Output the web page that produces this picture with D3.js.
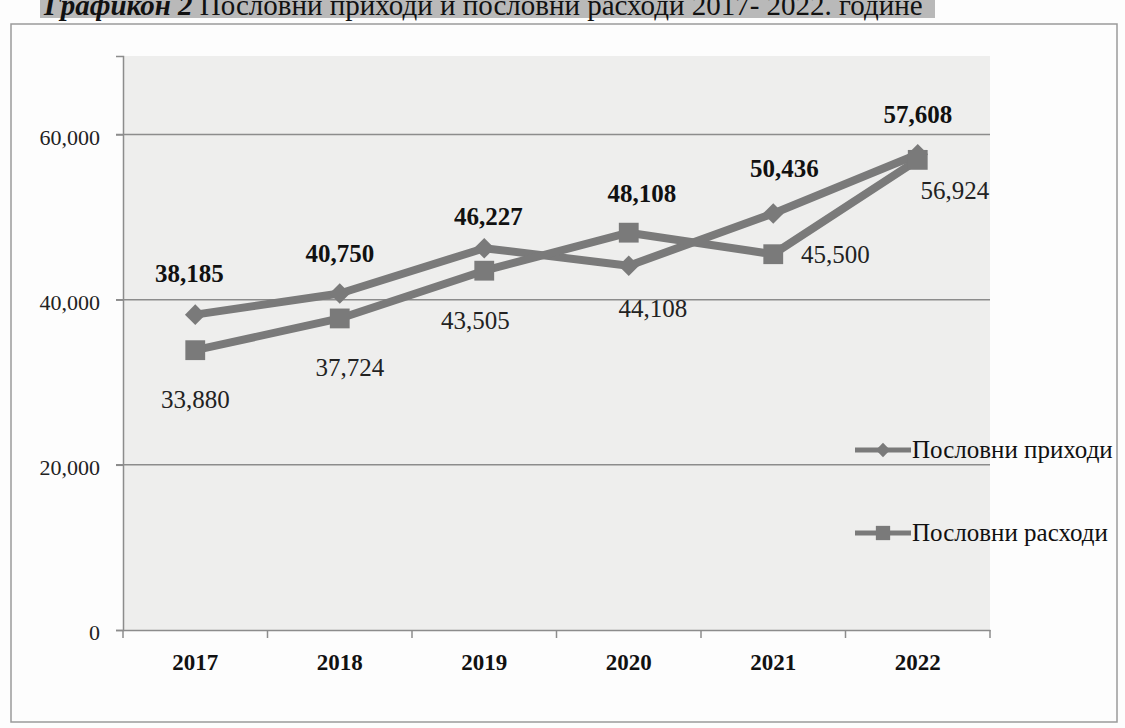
<!DOCTYPE html>
<html>
<head>
<meta charset="utf-8">
<script src="https://cdn.jsdelivr.net/npm/d3@7"></script>
<style>
  html, body { margin: 0; padding: 0; background: #fdfdfd; }
  svg { display: block; }
</style>
</head>
<body>
<svg id="chart" width="1125" height="728"></svg>
<script>
// ---- data ----
const years = ["2017", "2018", "2019", "2020", "2021", "2022"];
const revenue = [38185, 40750, 46227, 44108, 50436, 57608];   // Пословни приходи
const expenses = [33880, 37724, 43505, 48108, 45500, 56924];  // Пословни расходи
const seriesNames = ["Пословни приходи", "Пословни расходи"];
const yTicks = [0, 20000, 40000, 60000];
const titleBold = "Графикон 2";
const titleRest = " Пословни приходи и пословни расходи 2017- 2022. године";

// ---- layout ----
const svg = d3.select("#chart");
const plot = { left: 123, right: 990, top: 56, bottom: 630 };
const serif = "'Liberation Serif', 'Times New Roman', serif";
const lineColor = "#7a7a7a";

// title (partly cut off at top, as in the scan)
svg.append("rect").attr("x", 40).attr("y", 0).attr("width", 895).attr("height", 18).attr("fill", "#b9b9b9");
const title = svg.append("text").attr("x", 44).attr("y", 15)
  .attr("font-family", serif).attr("font-size", 29).attr("fill", "#111");
title.append("tspan").attr("font-weight", "bold").attr("font-style", "italic").text(titleBold);
title.append("tspan").text(titleRest);

// outer frame
svg.append("rect").attr("x", 11).attr("y", 24).attr("width", 1106).attr("height", 698)
  .attr("fill", "none").attr("stroke", "#9a9a9a").attr("stroke-width", 1.5);

// scales
const x = d3.scaleBand().domain(years).range([plot.left, plot.right]);
const y = d3.scaleLinear().domain([0, 69500]).range([plot.bottom, plot.top]);
const cx = d => x(d) + x.bandwidth() / 2;

// plot area background
svg.append("rect").attr("x", plot.left).attr("y", plot.top)
  .attr("width", plot.right - plot.left).attr("height", plot.bottom - plot.top)
  .attr("fill", "#eeeeed");

// gridlines
svg.append("g").selectAll("line").data(yTicks.filter(t => t > 0)).join("line")
  .attr("x1", plot.left - 7).attr("x2", plot.right)
  .attr("y1", d => y(d)).attr("y2", d => y(d))
  .attr("stroke", "#8c8c8c").attr("stroke-width", 1.5);

// y axis
const yAxis = svg.append("g").attr("transform", `translate(${plot.left},0)`)
  .call(d3.axisLeft(y).tickValues(yTicks).tickSize(7).tickPadding(16)
    .tickFormat(d3.format(",")));
yAxis.select(".domain").attr("stroke", "#8c8c8c").attr("stroke-width", 1.5);
yAxis.selectAll(".tick line").attr("stroke", "#8c8c8c").attr("stroke-width", 1.5);
yAxis.selectAll(".tick text").attr("font-family", serif).attr("font-size", 22)
  .attr("fill", "#222").attr("dy", "0.45em");

// x axis
const xAxis = svg.append("g").attr("transform", `translate(0,${plot.bottom})`)
  .call(d3.axisBottom(x).tickSize(0).tickPadding(24));
xAxis.select(".domain").attr("stroke", "#8c8c8c").attr("stroke-width", 1.5);
xAxis.selectAll(".tick text").attr("font-family", serif).attr("font-size", 23)
  .attr("font-weight", "bold").attr("fill", "#111");
// boundary tick marks
xAxis.append("g").selectAll("line").data(d3.range(years.length + 1)).join("line")
  .attr("x1", i => plot.left + i * x.bandwidth()).attr("x2", i => plot.left + i * x.bandwidth())
  .attr("y1", 0).attr("y2", 8).attr("stroke", "#8c8c8c").attr("stroke-width", 1.5);

// lines
const line = d3.line().x((d, i) => cx(years[i])).y(d => y(d));
const diamond = d3.symbol().type(d3.symbolDiamond2);
const square = d3.symbol().type(d3.symbolSquare2);

[revenue, expenses].forEach((vals, s) => {
  svg.append("path").datum(vals).attr("d", line)
    .attr("fill", "none").attr("stroke", lineColor).attr("stroke-width", 8)
    .attr("stroke-linejoin", "round");
  svg.append("g").selectAll("path").data(vals).join("path")
    .attr("transform", (d, i) => `translate(${cx(years[i])},${y(d)})`)
    .attr("d", s === 0 ? diamond.size(270)() : square.size(500)())
    .attr("fill", lineColor);
});

// data labels: higher value of the pair -> bold above, lower -> regular below
// small placement nudges (series-index) to follow the original label layout
const labelShift = {
  "0-0": [-6, -2], "0-2": [4, 8], "0-3": [24, -7], "0-4": [11, -5],
  "1-1": [10, 0], "1-2": [-9, 0], "1-3": [13, 0], "1-4": [62, -49], "1-5": [37, -19]
};
[revenue, expenses].forEach((vals, s) => {
  const other = s === 0 ? expenses : revenue;
  svg.append("g").selectAll("text").data(vals).join("text")
    .each(function (d, i) {
      const top = d >= other[i];
      const sh = labelShift[`${s}-${i}`] || [0, 0];
      d3.select(this)
        .attr("x", cx(years[i]) + sh[0])
        .attr("y", y(d) + (top ? -31 : 58) + sh[1])
        .attr("text-anchor", "middle")
        .attr("font-family", serif).attr("font-size", 25)
        .attr("font-weight", top ? "bold" : "normal")
        .attr("fill", top ? "#111" : "#222")
        .text(d3.format(",")(d));
    });
});

// legend
const legend = svg.append("g");
seriesNames.forEach((name, s) => {
  const ly = 450 + s * 83;
  legend.append("line").attr("x1", 855).attr("x2", 911).attr("y1", ly).attr("y2", ly)
    .attr("stroke", lineColor).attr("stroke-width", 5);
  legend.append("path").attr("transform", `translate(883,${ly})`)
    .attr("d", s === 0 ? diamond.size(130)() : square.size(260)())
    .attr("fill", lineColor);
  legend.append("text").attr("x", 912).attr("y", ly + 8)
    .attr("font-family", serif).attr("font-size", 25).attr("fill", "#111")
    .text(name);
});
</script>
</body>
</html>
